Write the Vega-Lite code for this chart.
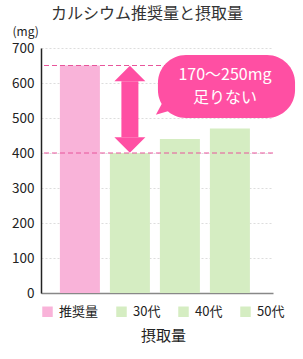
{
  "$schema": "https://vega.github.io/schema/vega-lite/v6.json",
  "autosize": {"type": "none"},
  "padding": {"left": 41, "top": 48, "right": 30, "bottom": 66},
  "width": 232,
  "height": 245,
  "background": "white",
  "config": {
    "font": "Noto Sans CJK JP",
    "view": {"stroke": null},
    "axisY": {
      "tickCount": 7,
      "labelOverlap": false,
      "labelFontSize": 13.5, "labelColor": "#222222", "labelPadding": 7,
      "ticks": false, "domainColor": "#222222", "domainWidth": 1.5,
      "gridColor": "#dddddd", "gridDash": [2, 2], "gridWidth": 1,
      "titleAngle": 0, "titleAlign": "left", "titleBaseline": "middle",
      "titleX": -29, "titleY": -17, "titleFontSize": 12, "titleFontWeight": "normal", "titleColor": "#222222"
    }
  },
  "title": {
    "text": "カルシウム推奨量と摂取量",
    "fontSize": 16,
    "fontWeight": "normal",
    "color": "#333333",
    "anchor": "middle",
    "frame": "group",
    "dx": -10,
    "offset": 3
  },
  "datasets": {
    "bars": [
      {"group": "推奨量", "mg": 650},
      {"group": "30代", "mg": 400},
      {"group": "40代", "mg": 440},
      {"group": "50代", "mg": 470}
    ],
    "refs": [{"mg": 650}, {"mg": 400}],
    "shaft": [{"group": "30代", "from": 445, "to": 605}],
    "headsUp": [{"group": "30代", "mg": 605}],
    "headsDown": [{"group": "30代", "mg": 445}],
    "bubble": [{"x1": 50.4, "x2": 109.5, "y1": 500, "y2": 680}],
    "tail": [{"x": 53.4, "mg": 529}],
    "label": [
      {"x": 79.3, "mg": 623, "text": "170〜250mg"},
      {"x": 79.3, "mg": 557, "text": "足りない"}
    ]
  },
  "layer": [
    {
      "layer": [
        {
          "data": {"name": "bars"},
          "mark": {"type": "bar"},
          "encoding": {
            "x": {
              "field": "group", "type": "nominal",
              "sort": ["推奨量", "30代", "40代", "50代"],
              "scale": {"domain": ["推奨量", "30代", "40代", "50代"], "paddingInner": 0.2, "paddingOuter": 0.42, "align": 0.45},
              "axis": {
                "title": "摂取量", "labels": false, "ticks": false,
                "domainColor": "#888888", "domainWidth": 1.5,
                "titleFontSize": 15, "titleFontWeight": "normal", "titleColor": "#222222",
                "titlePadding": 35, "titleX": 122
              }
            },
            "y": {
              "field": "mg", "type": "quantitative",
              "scale": {"domain": [0, 700], "nice": false},
              "axis": {"title": "(mg)"}
            },
            "color": {
              "field": "group", "type": "nominal",
              "scale": {"domain": ["推奨量", "30代", "40代", "50代"], "range": ["#F9B3D9", "#D5EDC2", "#D5EDC2", "#D5EDC2"]},
              "legend": {
                "title": null, "orient": "none", "direction": "horizontal",
                "legendX": 0, "legendY": 257,
                "symbolType": "square", "symbolSize": 110, "symbolStrokeWidth": 0,
                "labelFontSize": 13, "labelColor": "#222222", "columnPadding": 16, "labelOffset": 5
              }
            }
          }
        },
        {
          "data": {"name": "refs"},
          "mark": {"type": "rule", "color": "#E8559B", "strokeDash": [5, 3], "strokeWidth": 1},
          "encoding": {"y": {"field": "mg", "type": "quantitative"}}
        },
        {
          "data": {"name": "shaft"},
          "mark": {"type": "rule", "color": "#FF4FA3", "strokeWidth": 17},
          "encoding": {
            "x": {"field": "group", "type": "nominal"},
            "y": {"field": "from", "type": "quantitative"},
            "y2": {"field": "to"}
          }
        },
        {
          "data": {"name": "headsUp"},
          "mark": {"type": "point", "filled": true, "color": "#FF4FA3", "opacity": 1, "size": 961, "shape": "M-1,0L1,0L0,-1Z"},
          "encoding": {
            "x": {"field": "group", "type": "nominal"},
            "y": {"field": "mg", "type": "quantitative"}
          }
        },
        {
          "data": {"name": "headsDown"},
          "mark": {"type": "point", "filled": true, "color": "#FF4FA3", "opacity": 1, "size": 961, "shape": "M-1,0L1,0L0,1Z"},
          "encoding": {
            "x": {"field": "group", "type": "nominal"},
            "y": {"field": "mg", "type": "quantitative"}
          }
        }
      ]
    },
    {
      "layer": [
        {
          "data": {"name": "bubble"},
          "mark": {"type": "rect", "color": "#FF4FA3", "cornerRadius": 28},
          "encoding": {
            "x": {"field": "x1", "type": "quantitative", "scale": {"domain": [0, 100], "nice": false}, "axis": null},
            "x2": {"field": "x2"},
            "y": {"field": "y1", "type": "quantitative"},
            "y2": {"field": "y2"}
          }
        },
        {
          "data": {"name": "tail"},
          "mark": {"type": "point", "filled": true, "color": "#FF4FA3", "opacity": 1, "size": 400, "shape": "M-0.9,0.7L-0.2,-0.6L0.8,0.2Z"},
          "encoding": {
            "x": {"field": "x", "type": "quantitative"},
            "y": {"field": "mg", "type": "quantitative"}
          }
        },
        {
          "data": {"name": "label"},
          "mark": {"type": "text", "color": "white", "fontSize": 16, "baseline": "middle", "align": "center"},
          "encoding": {
            "x": {"field": "x", "type": "quantitative"},
            "y": {"field": "mg", "type": "quantitative"},
            "text": {"field": "text"}
          }
        }
      ]
    }
  ],
  "resolve": {"scale": {"x": "independent"}}
}
